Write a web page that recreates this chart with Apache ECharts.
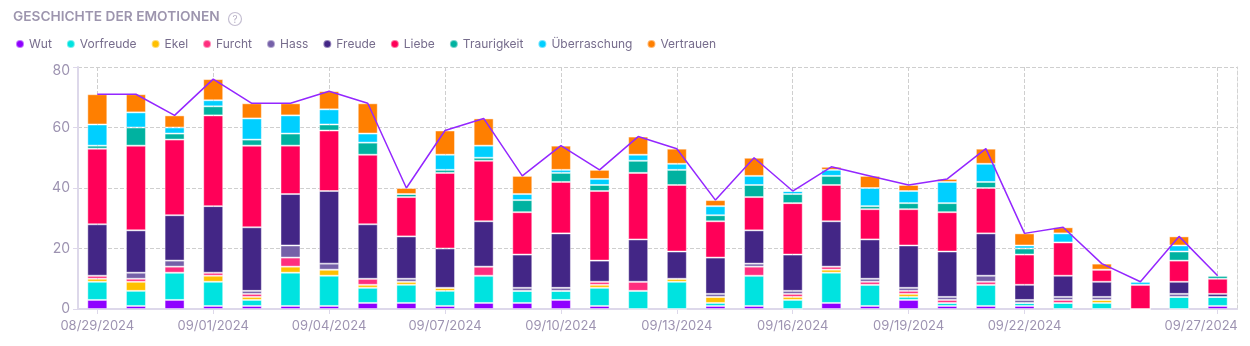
<!DOCTYPE html>
<html><head><meta charset="utf-8">
<script src="https://cdn.jsdelivr.net/npm/echarts@6/dist/echarts.min.js"></script>
<style>html,body{margin:0;padding:0;background:#fff}#c{width:1250px;height:346px}</style>
</head><body><div id="c"></div>
<script>
const categories = ['08/29/2024','08/30/2024','08/31/2024','09/01/2024','09/02/2024','09/03/2024','09/04/2024','09/05/2024','09/06/2024','09/07/2024','09/08/2024','09/09/2024','09/10/2024','09/11/2024','09/12/2024','09/13/2024','09/14/2024','09/15/2024','09/16/2024','09/17/2024','09/18/2024','09/19/2024','09/20/2024','09/21/2024','09/22/2024','09/23/2024','09/24/2024','09/25/2024','09/26/2024','09/27/2024'];
const labelIndices = [0,3,6,9,12,15,18,21,24,29];
const seriesNames = ['Wut','Vorfreude','Ekel','Furcht','Hass','Freude','Liebe','Traurigkeit','Überraschung','Vertrauen'];
const colors = ['#8f00ff','#00e3e0','#ffc000','#ff2e7e','#7560a8','#432686','#ff0058','#00b2a0','#00cfff','#ff7f00'];
const wut =          [3,1,3,1,1, 1,1,2,2,1, 2,2,3,1,0, 0,1,1,0,2, 1,3,1,1,1, 0,0,0,0,1];
const vorfreude =    [6,5,9,8,2, 11,10,5,6,5, 9,4,3,6,6, 9,1,10,3,10, 7,1,1,7,1, 2,2,0,4,3];
const ekel =         [1,3,0,2,1, 2,2,1,1,1, 0,0,0,1,0, 1,2,0,1,1, 0,1,0,0,0, 0,1,0,0,0];
const furcht =       [1,1,2,1,1, 3,0,2,0,0, 3,0,0,1,3, 0,0,3,1,1, 1,1,1,1,0, 1,0,0,0,0];
const hass =         [0,2,2,0,1, 4,2,0,1,0, 0,1,1,0,0, 0,1,1,1,0, 1,1,1,2,1, 1,1,0,1,0];
const freude =       [17,14,15,22,21, 17,24,18,14,13, 15,11,18,7,14, 9,12,11,12,15, 13,14,15,14,5, 7,5,0,4,1];
const liebe =        [25,28,25,30,27, 16,20,23,13,25, 20,14,17,23,22, 22,12,11,17,12, 10,12,13,15,10, 11,4,8,7,5];
const traurigkeit =  [1,6,2,3,2, 4,2,4,1,1, 1,4,3,2,4, 5,2,4,3,3, 1,2,3,2,2, 0,0,0,3,1];
const ueberraschung =[7,5,2,2,7, 6,5,3,0,5, 4,2,1,2,2, 2,3,3,1,2, 6,4,7,6,1, 3,0,1,2,0];
const vertrauen =    [10,6,4,7,5, 4,6,10,2,8, 9,6,8,3,6, 5,2,6,0,1, 4,2,1,5,4, 2,2,0,3,0];
const yTicks = {min: 0, max: 80, interval: 20};

const seriesValues = [wut, vorfreude, ekel, furcht, hass, freude, liebe, traurigkeit, ueberraschung, vertrauen];
const totals = categories.map((_, i) => seriesValues.reduce((s, arr) => s + arr[i], 0));

const FONT = 'Inter';
const labelColor = '#9d93b1';
const axisColor = '#ddd8ea';
const showIdx = (i) => labelIndices.indexOf(i) >= 0;

const chart = echarts.init(document.getElementById('c'), null, {renderer: 'canvas'});
const barSeries = seriesNames.map((name, k) => ({
  name, type: 'bar', stack: 'total', barWidth: 20,
  data: seriesValues[k],
  itemStyle: {color: colors[k], borderColor: 'rgba(255,255,255,0.45)', borderWidth: 1},
  emphasis: {disabled: true}
}));
chart.setOption({
  animation: false,
  color: colors,
  title: {
    text: 'GESCHICHTE DER EMOTIONEN', left: 13, top: 10, padding: 0,
    textStyle: {fontFamily: FONT, fontSize: 13.7, fontWeight: 600, color: '#9d95ae'}
  },
  graphic: [{
    type: 'group', left: 226, top: 10,
    children: [
      {type: 'circle', shape: {cx: 7, cy: 7, r: 6.5}, style: {fill: 'none', stroke: '#c5bfd2', lineWidth: 1.2}},
      {type: 'text', style: {text: '?', x: 7, y: 7.5, align: 'center', verticalAlign: 'middle', fontSize: 10, fontFamily: FONT, fill: '#b8b1c6'}}
    ]
  }],
  legend: {
    data: seriesNames, left: 15, top: 38, padding: 0, icon: 'circle', itemWidth: 8, itemHeight: 8, itemGap: 14,
    textStyle: {fontFamily: FONT, fontSize: 12, color: '#766c8c'}
  },
  grid: {left: 78, right: 13, top: 67, bottom: 37},
  xAxis: {
    type: 'category', data: categories, boundaryGap: true,
    axisLine: {lineStyle: {color: axisColor, width: 2}},
    axisTick: {show: true, alignWithLabel: true, interval: (i) => showIdx(i), length: 5, lineStyle: {color: axisColor}},
    axisLabel: {
      interval: (i) => showIdx(i), margin: 11, fontFamily: FONT, fontSize: 13, color: labelColor,
      formatter: (v, i) => i === categories.length - 1 ? '{last|' + v + '}' : v,
      rich: {last: {fontFamily: FONT, fontSize: 13, color: labelColor, padding: [0, 33, 0, 0]}}
    },
    splitLine: {show: true, alignWithLabel: true, interval: (i) => showIdx(i), lineStyle: {type: 'dashed', color: '#cfcfcf'}}
  },
  yAxis: [{
    type: 'value', min: yTicks.min, max: yTicks.max, interval: yTicks.interval,
    axisLine: {show: true, lineStyle: {color: axisColor, width: 2}},
    axisTick: {show: true, length: 5, lineStyle: {color: axisColor}},
    axisLabel: {
      fontFamily: FONT, fontSize: 14, color: labelColor, margin: 8,
      formatter: (v) => v === yTicks.max ? '{top|' + v + '}' : String(v),
      rich: {top: {fontFamily: FONT, fontSize: 14, color: labelColor, padding: [8, 0, 0, 0]}}
    },
    splitLine: {lineStyle: {type: 'dashed', color: '#cfcfcf'}}
  }, {
    type: 'value', position: 'right', min: yTicks.min, max: yTicks.max, interval: yTicks.interval,
    axisLine: {show: true, lineStyle: {color: '#d3d3d3', type: 'dashed'}},
    axisTick: {show: false}, axisLabel: {show: false}, splitLine: {show: false}
  }],
  series: barSeries.concat([{
    name: 'Gesamt', type: 'line', data: totals, symbol: 'none', z: 5,
    lineStyle: {color: '#9427ff', width: 1.5}, emphasis: {disabled: true}
  }])
});
</script></body></html>
